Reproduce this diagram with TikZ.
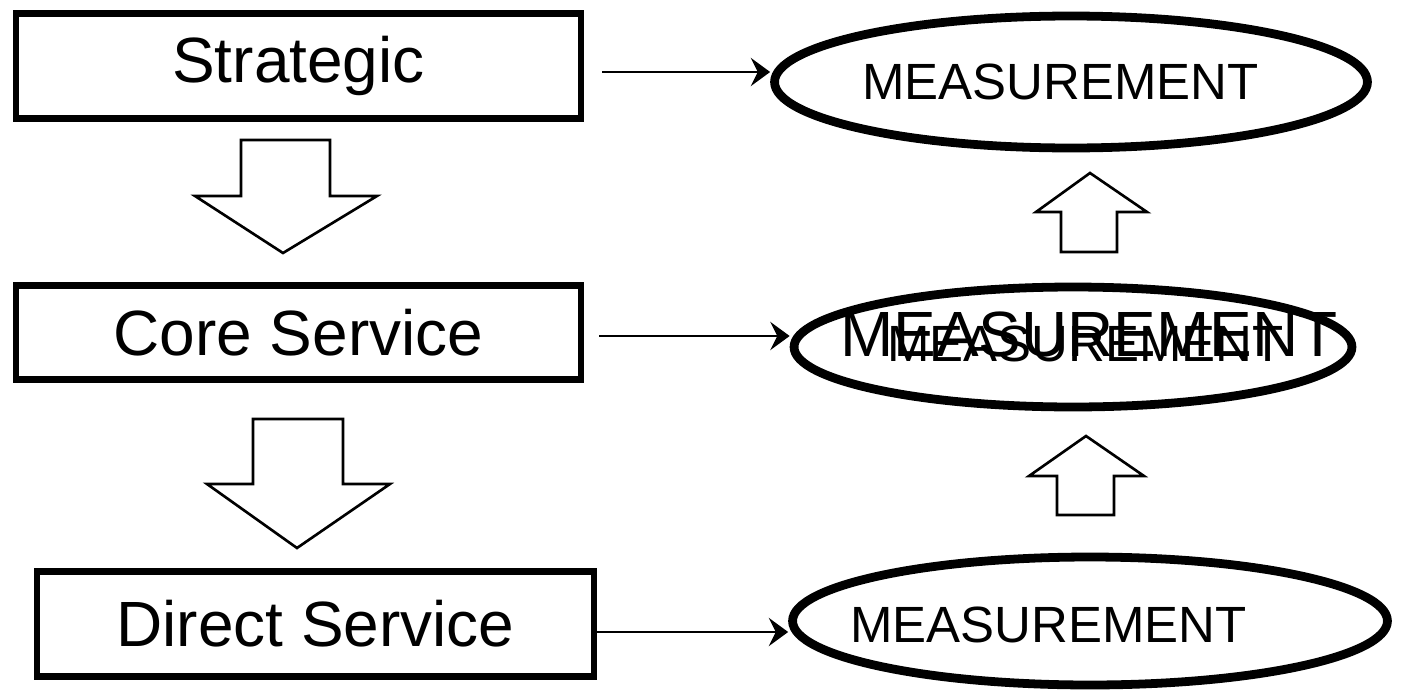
\documentclass[tikz,border=0pt]{standalone}
\usepackage{fontspec}
\setmainfont{Liberation Sans}
\usetikzlibrary{arrows.meta,shapes.geometric}

\begin{document}
\begin{tikzpicture}[x=0.02cm, y=-0.02cm,
  level/.style={draw, line width=3.8pt, inner sep=0pt, font=\fontsize{36.4}{40}\selectfont},
  meas/.style={draw, ellipse, line width=5pt, inner sep=0pt},
  measlabel/.style={inner sep=0pt, anchor=west, font=\fontsize{29}{32}\selectfont},
  link/.style={line width=1.7pt, -{Stealth[length=11pt, width=16pt, inset=4pt]}},
  blockarrow/.style={line width=1.5pt, line join=miter}]
\useasboundingbox (0,0) rectangle (1410,693);

\node[level, minimum width=11.3cm, minimum height=2.1cm] (strat) at (298.5,66) {Strategic};
\node[level, minimum width=11.3cm, minimum height=1.88cm] (core) at (298.5,332.5) {Core Service};
\node[level, minimum width=11.14cm, minimum height=2.1cm] (direct) at (315.5,624) {Direct Service};

\node[meas, minimum width=11.86cm, minimum height=2.64cm] (m1) at (1071,82) {};
\node[meas, minimum width=11.16cm, minimum height=2.4cm] (m2) at (1073,347) {};
\node[meas, minimum width=11.9cm, minimum height=2.56cm] (m3) at (1090,621) {};

\node[measlabel] (m1txt) at (862,82) {MEASUREMENT};
\node[anchor=west, inner sep=0pt, font=\fontsize{36.4}{40}\selectfont] (m2big) at (840,334) {MEASUREMENT};
\node[measlabel] (m2small) at (887,344) {MEASUREMENT};
\node[measlabel] (m3txt) at (850,625) {MEASUREMENT};

\coordinate (s1) at ([xshift=0.36cm, yshift=-0.12cm]strat.east);
\coordinate (s2) at ([xshift=0.3cm, yshift=-0.07cm]core.east);
\coordinate (s3) at ([yshift=-0.16cm]direct.east);
\draw[link] (s1) -- (s1 -| m1.west);
\draw[link] (s2) -- (s2 -| m2.west);
\draw[link] (s3) -- (s3 -| m3.west);

\draw[blockarrow] (241,140) -- (330,140) -- (330,196) -- (377,196) -- (283,253) -- (195,196) -- (241,196) -- cycle;
\draw[blockarrow] (253,419) -- (343,419) -- (343,484) -- (390,484) -- (297,548) -- (207,484) -- (253,484) -- cycle;
\draw[blockarrow] (1061,252) -- (1117,252) -- (1117,212) -- (1147,212) -- (1090,173) -- (1036,212) -- (1061,212) -- cycle;
\draw[blockarrow] (1057,515) -- (1114,515) -- (1114,476) -- (1144,476) -- (1086,436) -- (1029,476) -- (1057,476) -- cycle;
\end{tikzpicture}
\end{document}
